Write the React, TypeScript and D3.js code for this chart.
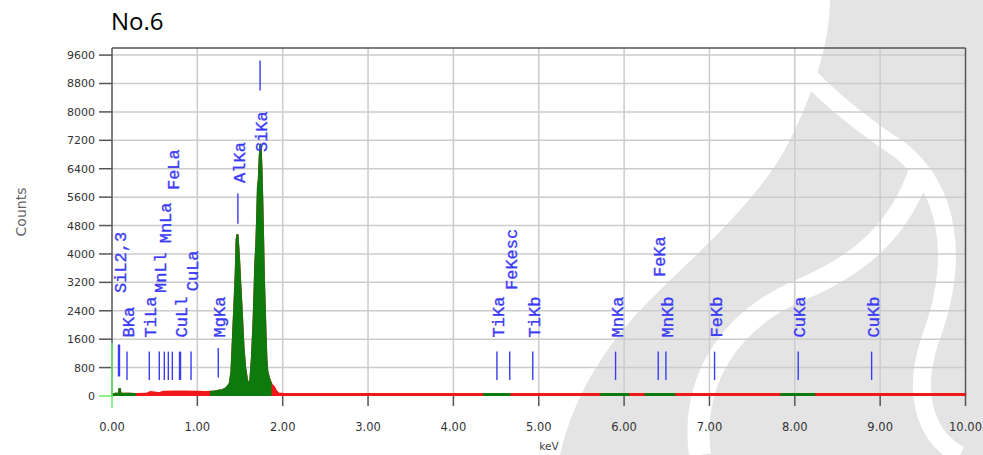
import React from 'react';
import * as d3 from 'd3';

// ---------- data ----------
const xTickValues = [0, 1, 2, 3, 4, 5, 6, 7, 8, 9, 10];
const xTickLabels = ['0.00', '1.00', '2.00', '3.00', '4.00', '5.00', '6.00', '7.00', '8.00', '9.00', '10.00'];
const yTickValues = [0, 800, 1600, 2400, 3200, 4000, 4800, 5600, 6400, 7200, 8000, 8800, 9600];

// spectrum (keV, counts)
const specKeV = [
  0.0, 0.02, 0.08, 0.09, 0.1, 0.2, 0.28, 0.4, 0.45, 0.5, 0.55, 0.6, 0.8, 1.0, 1.1, 1.2, 1.3, 1.34, 1.38,
  1.4, 1.42, 1.44, 1.45, 1.46, 1.47, 1.48, 1.49, 1.5, 1.52, 1.54, 1.56, 1.58, 1.6, 1.62, 1.64, 1.66,
  1.67, 1.68, 1.69, 1.7, 1.71, 1.72, 1.73, 1.74, 1.75, 1.76, 1.77, 1.78, 1.79, 1.8, 1.81, 1.82, 1.84,
  1.86, 1.87, 1.88, 1.9, 1.92, 1.95, 2.0, 3.0, 4.0, 5.0, 6.0, 7.0, 8.0, 9.0, 10.0,
];
const specCounts = [
  0, 60, 70, 220, 70, 60, 55, 60, 110, 100, 80, 120, 130, 120, 110, 130, 170, 220, 350,
  700, 1800, 2900, 3500, 4400, 4550, 4200, 3800, 3300, 2400, 1400, 800, 480, 300, 420, 1100, 2200,
  3000, 3800, 4200, 5000, 5900, 6100, 6700, 7100, 6500, 5600, 4500, 3300, 2500, 1700, 1000, 700, 500,
  380, 330, 300, 250, 150, 70, 60, 55, 55, 55, 55, 55, 55, 55, 55,
];

// regions of interest (green)
const roiStart = [0.0, 1.15, 4.35, 5.72, 6.24, 7.83];
const roiEnd = [0.28, 1.87, 4.67, 6.06, 6.6, 8.24];

// KLM markers
const markerNames = ['SiL2,3', 'BKa', 'TiLa', 'MnLl', 'MnLa', '', 'FeLa', 'CuLl', 'CuLa', 'MgKa', 'AlKa', 'SiKa',
  'TiKa', 'FeKesc', 'TiKb', 'MnKa', 'MnKb', 'FeKa', 'FeKb', 'CuKa', 'CuKb'];
const markerKeV = [0.082, 0.176, 0.437, 0.554, 0.613, 0.66, 0.707, 0.797, 0.926, 1.245, 1.475, 1.735,
  4.51, 4.66, 4.93, 5.9, 6.49, 6.4, 7.06, 8.04, 8.9];
const markerTop = [1450, 1250, 1250, 1250, 1250, 1250, 1250, 1250, 1250, 1350, 5700, 9450,
  1250, 1250, 1250, 1250, 1250, 1250, 1250, 1250, 1250];
const markerBottom = [550, 450, 450, 450, 450, 450, 450, 450, 450, 520, 4850, 8600,
  450, 450, 450, 450, 450, 450, 450, 450, 450];
const markerLabelAt = [2900, 1650, 1650, 2900, 4300, 0, 5800, 1650, 2950, 1650, 6000, 6870,
  1650, 2985, 1650, 1650, 1650, 3350, 1650, 1650, 1650];
const markerBold = [true, false, false, false, false, false, false, true, false, false, false, false,
  false, false, false, false, false, false, false, false, false];

// ---------- chart ----------
const W = 983;
const H = 455;

export default function App() {
  const x = d3.scaleLinear().domain([0, 10]).range([112, 965.5]);
  const y = d3.scaleLinear().domain([0, 9800]).range([396, 48]);

  const pts = specKeV.map((k, i) => [k, specCounts[i]] as [number, number]);
  const area = d3.area<[number, number]>()
    .x((d) => x(d[0]))
    .y0(y(0))
    .y1((d) => y(d[1]))
    .curve(d3.curveLinear);
  const line = d3.line<[number, number]>()
    .x((d) => x(d[0]))
    .y((d) => y(d[1]));
  const areaD = area(pts) || '';
  const lineD = line(pts) || '';

  const mono = '"Liberation Mono", "DejaVu Sans Mono", monospace';
  const sans = '"DejaVu Sans", Verdana, sans-serif';
  const blue = '#3b3bf5';

  return (
    <svg width={W} height={H} style={{ position: 'absolute', left: 0, top: 0, display: 'block', background: '#fff' }}>
      <defs>
        <clipPath id="roi">
          {roiStart.map((s, i) => (
            <rect key={i} x={x(s)} y={0} width={x(roiEnd[i]) - x(s)} height={H} />
          ))}
        </clipPath>
      </defs>

      {/* watermark */}
      <g>
        <path d="M 560 455 C 575 390 610 340 650 300 C 700 250 760 200 790 140 C 815 90 830 40 830 0 L 983 0 L 983 455 Z" fill="#e4e4e4" />
        <path d="M 700 455 C 690 380 730 320 800 290 C 860 265 900 230 920 170" fill="none" stroke="#fff" strokeWidth={22} />
        <path d="M 760 0 C 780 60 840 110 900 150 C 950 190 960 260 930 340 C 910 400 930 440 960 455" fill="none" stroke="#fff" strokeWidth={18} />
      </g>

      {/* grid */}
      <g stroke="#cccccc" strokeWidth={1.5}>
        {yTickValues.filter((v) => v > 0).map((v) => (
          <line key={v} x1={x(0)} x2={x(10)} y1={y(v)} y2={y(v)} />
        ))}
        {xTickValues.filter((v) => v > 0 && v < 10).map((v) => (
          <line key={v} x1={x(v)} x2={x(v)} y1={y(9800)} y2={y(0)} />
        ))}
      </g>

      {/* frame */}
      <g stroke="#555" strokeWidth={1.5} fill="none">
        <line x1={x(0)} x2={x(10)} y1={y(9800)} y2={y(9800)} />
        <line x1={x(0)} x2={x(0)} y1={y(9800)} y2={y(0)} />
        <line x1={x(10)} x2={x(10)} y1={y(9800)} y2={y(0)} />
      </g>

      {/* y ticks */}
      <g>
        {yTickValues.map((v) => (
          <g key={v}>
            <line x1={99} x2={x(0)} y1={y(v)} y2={y(v)} stroke={v === 0 ? '#66ee66' : '#555'} strokeWidth={1.5} />
            <text x={95} y={y(v)} dy="0.36em" textAnchor="end" fontFamily={sans} fontSize={11} fill="#333">{v}</text>
          </g>
        ))}
      </g>

      {/* x ticks */}
      <g>
        {xTickValues.map((v, i) => (
          <g key={v}>
            {v > 0 && <line x1={x(v)} x2={x(v)} y1={393} y2={406} stroke="#555" strokeWidth={1.5} />}
            <text x={x(v)} y={431} textAnchor="middle" fontFamily={sans} fontSize={11.5} fill="#333">{xTickLabels[i]}</text>
          </g>
        ))}
      </g>

      {/* spectrum */}
      <path d={areaD} fill="#f01818" />
      <path d={lineD} fill="none" stroke="#f01818" strokeWidth={2} />
      <g clipPath="url(#roi)">
        <path d={areaD} fill="#0d7a0d" />
        <path d={lineD} fill="none" stroke="#0d7a0d" strokeWidth={2} />
      </g>

      {/* origin cursor */}
      <line x1={x(0)} x2={x(0)} y1={343} y2={408} stroke="#66ee66" strokeWidth={1.5} />

      {/* markers */}
      <g>
        {markerKeV.map((k, i) => (
          <line key={i} x1={x(k)} x2={x(k)} y1={y(markerTop[i])} y2={y(markerBottom[i])} stroke={blue} strokeWidth={markerBold[i] ? 2.4 : 1.4} />
        ))}
        {markerKeV.map((k, i) => markerNames[i] ? (
          <text key={'t' + i} transform={`translate(${x(k) + 1},${y(markerLabelAt[i])}) rotate(-90)`} dy="0.36em"
            fontFamily={mono} fontSize={17} fill={blue} stroke={blue} strokeWidth={0.35}>{markerNames[i]}</text>
        ) : null)}
      </g>

      {/* titles */}
      <text x={111} y={30} fontFamily='"Open Sans", "Liberation Sans", sans-serif' fontSize={24} fill="#000">No.6</text>
      <text transform={`translate(26,212) rotate(-90)`} textAnchor="middle" fontFamily={sans} fontSize={14} fill="#666">Counts</text>
      <text x={549} y={450} textAnchor="middle" fontFamily={sans} fontSize={10.5} fill="#444">keV</text>
    </svg>
  );
}
